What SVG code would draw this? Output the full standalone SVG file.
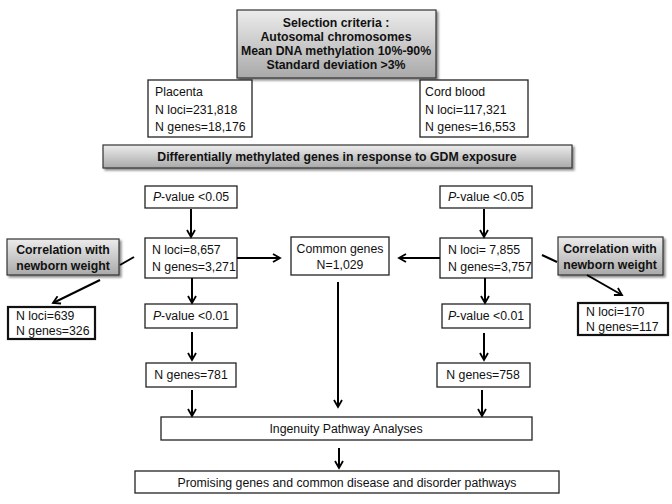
<svg xmlns="http://www.w3.org/2000/svg" width="672" height="504" viewBox="0 0 672 504">
<defs>
<linearGradient id="g" x1="0" y1="0" x2="0" y2="1">
<stop offset="0" stop-color="#ececec"/>
<stop offset="1" stop-color="#a9a9a9"/>
</linearGradient>
<marker id="ah" markerWidth="10" markerHeight="10" refX="8" refY="5" orient="auto" markerUnits="userSpaceOnUse">
<path d="M1,1 L8,5 L1,9" fill="none" stroke="#000" stroke-width="1.8"/>
</marker>
<filter id="sh" x="-10%" y="-10%" width="130%" height="140%">
<feDropShadow dx="2" dy="2" stdDeviation="1.2" flood-color="#000" flood-opacity="0.45"/>
</filter>
</defs>
<style>
text{font-family:"Liberation Sans",Arial,sans-serif;font-size:12.3px;fill:#111}
.b{font-weight:bold}
.c{text-anchor:middle}
.box{fill:#fff;stroke:#222;stroke-width:1.3}
.thick{fill:#fff;stroke:#111;stroke-width:2.2}
.grad{fill:url(#g);stroke:#333;stroke-width:1.2;filter:url(#sh)}
.ln{stroke:#000;stroke-width:2;fill:none}
.ar{stroke:#000;stroke-width:2;fill:none;marker-end:url(#ah)}
</style>
<rect width="672" height="504" fill="#fff"/>

<g id="selection">
<rect class="grad" x="237" y="10" width="199" height="68"/>
<text class="b c" x="336" y="27" font-size="11.5">Selection criteria :</text>
<text class="b c" x="336" y="41" font-size="11.5">Autosomal chromosomes</text>
<text class="b c" x="336" y="55" font-size="11.5">Mean DNA methylation 10%-90%</text>
<text class="b c" x="336" y="69" font-size="11.5">Standard deviation &gt;3%</text>
</g>

<g id="placenta">
<rect class="box" x="148" y="80" width="104" height="57"/>
<text x="155" y="96">Placenta</text>
<text x="155" y="114">N loci=231,818</text>
<text x="155" y="131">N genes=18,176</text>
</g>

<g id="cordblood">
<rect class="box" x="420" y="80" width="108" height="57"/>
<text x="425" y="96">Cord blood</text>
<text x="425" y="114">N loci=117,321</text>
<text x="425" y="131">N genes=16,553</text>
</g>

<g id="dmg">
<rect class="grad" x="103" y="145" width="469" height="23"/>
<text class="b c" x="337" y="161" font-size="10.7">Differentially methylated genes in response to GDM exposure</text>
</g>

<g id="p05left">
<rect class="box" x="145" y="186" width="92" height="22"/>
<text class="c" x="191" y="201"><tspan font-style="italic">P</tspan>-value &lt;0.05</text>
</g>

<g id="p05right">
<rect class="box" x="440" y="186" width="92" height="22"/>
<text class="c" x="486" y="201"><tspan font-style="italic">P</tspan>-value &lt;0.05</text>
</g>

<g id="lociLeft">
<rect class="box" x="145" y="238" width="92" height="40"/>
<text x="152" y="254">N loci=8,657</text>
<text x="152" y="271">N genes=3,271</text>
</g>

<g id="common">
<rect class="box" x="291" y="237" width="98" height="38"/>
<text class="c" x="340" y="253">Common genes</text>
<text class="c" x="340" y="269">N=1,029</text>
</g>

<g id="lociRight">
<rect class="box" x="440" y="238" width="92" height="40"/>
<text x="448" y="254">N loci= 7,855</text>
<text x="448" y="271">N genes=3,757</text>
</g>

<g id="corrLeft">
<rect class="grad" x="7" y="239" width="112" height="36"/>
<text class="b c" x="63" y="254">Correlation with</text>
<text class="b c" x="63" y="270">newborn weight</text>
</g>

<g id="corrRight">
<rect class="grad" x="558" y="237" width="105" height="38"/>
<text class="b c" x="610" y="253">Correlation with</text>
<text class="b c" x="610" y="269">newborn weight</text>
</g>

<g id="corrLeftResult">
<rect class="thick" x="8" y="307" width="87" height="32"/>
<text x="16" y="320">N loci=639</text>
<text x="16" y="335">N genes=326</text>
</g>

<g id="corrRightResult">
<rect class="thick" x="578" y="303" width="90" height="32"/>
<text x="586" y="316">N loci=170</text>
<text x="586" y="331">N genes=117</text>
</g>

<g id="p01left">
<rect class="box" x="145" y="304" width="92" height="24"/>
<text class="c" x="191" y="320"><tspan font-style="italic">P</tspan>-value &lt;0.01</text>
</g>

<g id="p01right">
<rect class="box" x="442" y="304" width="88" height="24"/>
<text class="c" x="486" y="320"><tspan font-style="italic">P</tspan>-value &lt;0.01</text>
</g>

<g id="genes781">
<rect class="box" x="146" y="363" width="90" height="24"/>
<text class="c" x="191" y="379">N genes=781</text>
</g>

<g id="genes758">
<rect class="box" x="437" y="363" width="93" height="24"/>
<text class="c" x="483" y="379">N genes=758</text>
</g>

<g id="ipa">
<rect class="box" x="161" y="417" width="371" height="23"/>
<text class="c" x="346" y="433">Ingenuity Pathway Analyses</text>
</g>

<g id="promising">
<rect class="box" x="135" y="471" width="424" height="22"/>
<text class="c" x="347" y="487">Promising genes and common disease and disorder pathways</text>
</g>

<g id="connectors">
<line class="ar" x1="191" y1="209" x2="191" y2="237"/>
<line class="ar" x1="484" y1="209" x2="484" y2="237"/>
<line class="ar" x1="237" y1="258" x2="280" y2="258"/>
<line class="ar" x1="440" y1="258" x2="399" y2="258"/>
<line class="ar" x1="192" y1="278" x2="192" y2="303"/>
<line class="ar" x1="485" y1="278" x2="485" y2="303"/>
<line class="ln" x1="134" y1="257" x2="120" y2="265"/>
<line class="ar" x1="100" y1="280" x2="53" y2="303"/>
<line class="ln" x1="542" y1="255" x2="557" y2="262"/>
<line class="ar" x1="587" y1="275" x2="622" y2="295"/>
<line class="ar" x1="192" y1="332" x2="192" y2="360"/>
<line class="ar" x1="484" y1="333" x2="484" y2="360"/>
<line class="ar" x1="192" y1="390" x2="192" y2="416"/>
<line class="ar" x1="482" y1="390" x2="482" y2="416"/>
<line class="ar" x1="338" y1="282" x2="338" y2="407"/>
<line class="ar" x1="339" y1="448" x2="339" y2="468"/>
</g>
</svg>
